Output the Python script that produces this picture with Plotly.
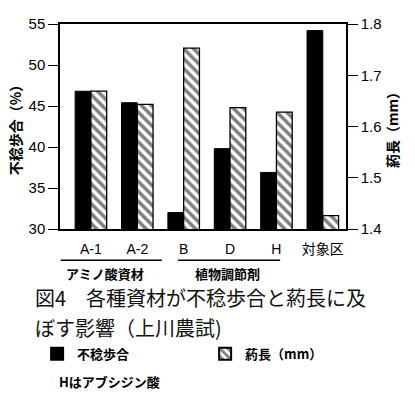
import plotly.graph_objects as go

categories = ["A-1", "A-2", "B", "D", "H", "対象区"]
sterility_pct = [46.8, 45.4, 32.0, 39.8, 36.9, 54.2]
anther_mm = [1.669, 1.643, 1.753, 1.637, 1.628, 1.426]
left_ticks = [30, 35, 40, 45, 50, 55]
right_ticks = [1.4, 1.5, 1.6, 1.7, 1.8]
groups = ["アミノ酸資材", "植物調節剤"]
caption_lines = ["図4　各種資材が不稔歩合と葯長に及", "ぼす影響（上川農試)"]
note = "Hはアブシジン酸"

SANS = "Arial, Liberation Sans, Noto Sans CJK JP, sans-serif"
CJK = "Noto Sans CJK JP, sans-serif"

fig = go.Figure()
fig.add_trace(go.Bar(
    x=categories, y=sterility_pct, name="<b>不稔歩合</b>",
    marker=dict(color="black", line=dict(color="black", width=1)),
    offsetgroup="a", yaxis="y",
))
fig.add_trace(go.Bar(
    x=categories, y=anther_mm, name="<b>葯長（mm）</b>",
    marker=dict(color="white", line=dict(color="black", width=1.3),
                pattern=dict(shape="\\", fgcolor="black", bgcolor="white",
                             size=7, solidity=0.5)),
    offsetgroup="b", yaxis="y2",
))

fig.update_layout(
    width=415, height=394,
    margin=dict(l=60, r=69, t=24, b=165, autoexpand=False),
    paper_bgcolor="white", plot_bgcolor="white",
    barmode="group", bargap=0.32, bargroupgap=0.0,
    font=dict(family=SANS, size=14, color="black"),
    showlegend=True,
    legend=dict(orientation="h", x=-0.08, y=-0.535, xanchor="left", yanchor="top",
                font=dict(family=CJK, size=13, color="black"),
                entrywidth=123, entrywidthmode="pixels",
                bgcolor="rgba(0,0,0,0)", itemsizing="constant"),
    xaxis=dict(
        type="category", showline=True, linecolor="black", linewidth=1.5,
        mirror=True, ticks="", showgrid=False, automargin=False,
        ticklabelstandoff=6,
        tickfont=dict(family=SANS, size=14, color="black"),
    ),
    yaxis=dict(
        range=[30, 55], tickvals=left_ticks, showline=True, linecolor="black",
        linewidth=1.5, ticks="outside", ticklen=10, tickwidth=1.2, tickcolor="black",
        showgrid=False, zeroline=False, automargin=False,
        tickfont=dict(family=SANS, size=15, color="black"),
        title=dict(text="<b>不稔歩合（%）</b>", font=dict(family=CJK, size=14, color="black"),
                   standoff=4),
    ),
    yaxis2=dict(
        range=[1.4, 1.8], tickvals=right_ticks, tickformat=".1f", overlaying="y",
        side="right", showline=True, linecolor="black", linewidth=1.5,
        ticks="outside", ticklen=10, tickwidth=1.2, tickcolor="black",
        showgrid=False, zeroline=False, automargin=False,
        tickfont=dict(family=SANS, size=15, color="black"),
        title=dict(text="<b>葯長（mm）</b>", font=dict(family=CJK, size=14, color="black"),
                   standoff=8),
    ),
)

# group underlines and labels
fig.add_shape(type="line", xref="x", yref="paper", x0=-0.65, x1=1.53, y0=-0.152, y1=-0.152,
              line=dict(color="black", width=1.5))
fig.add_shape(type="line", xref="x", yref="paper", x0=1.88, x1=4.08, y0=-0.152, y1=-0.152,
              line=dict(color="black", width=1.5))
fig.add_annotation(x=0.3, xref="x", y=-0.215, yref="paper", yanchor="middle",
                   text="<b>" + groups[0] + "</b>",
                   showarrow=False, font=dict(family=CJK, size=13, color="black"))
fig.add_annotation(x=2.95, xref="x", y=-0.215, yref="paper", yanchor="middle",
                   text="<b>" + groups[1] + "</b>",
                   showarrow=False, font=dict(family=CJK, size=13, color="black"))

# caption
fig.add_annotation(xref="paper", yref="paper", x=-0.095, y=-0.335, xanchor="left", yanchor="middle",
                   showarrow=False, text=caption_lines[0],
                   font=dict(family=CJK, size=20, color="#111"))
fig.add_annotation(xref="paper", yref="paper", x=-0.095, y=-0.48, xanchor="left", yanchor="middle",
                   showarrow=False, text=caption_lines[1],
                   font=dict(family=CJK, size=20, color="#111"))
fig.add_annotation(xref="paper", yref="paper", x=-0.01, y=-0.746, xanchor="left", yanchor="middle",
                   showarrow=False, text="<b>" + note + "</b>",
                   font=dict(family=CJK, size=13, color="black"))

fig.write_html("out.html", config={"displayModeBar": False},
               post_script="document.body.style.margin='0';")
